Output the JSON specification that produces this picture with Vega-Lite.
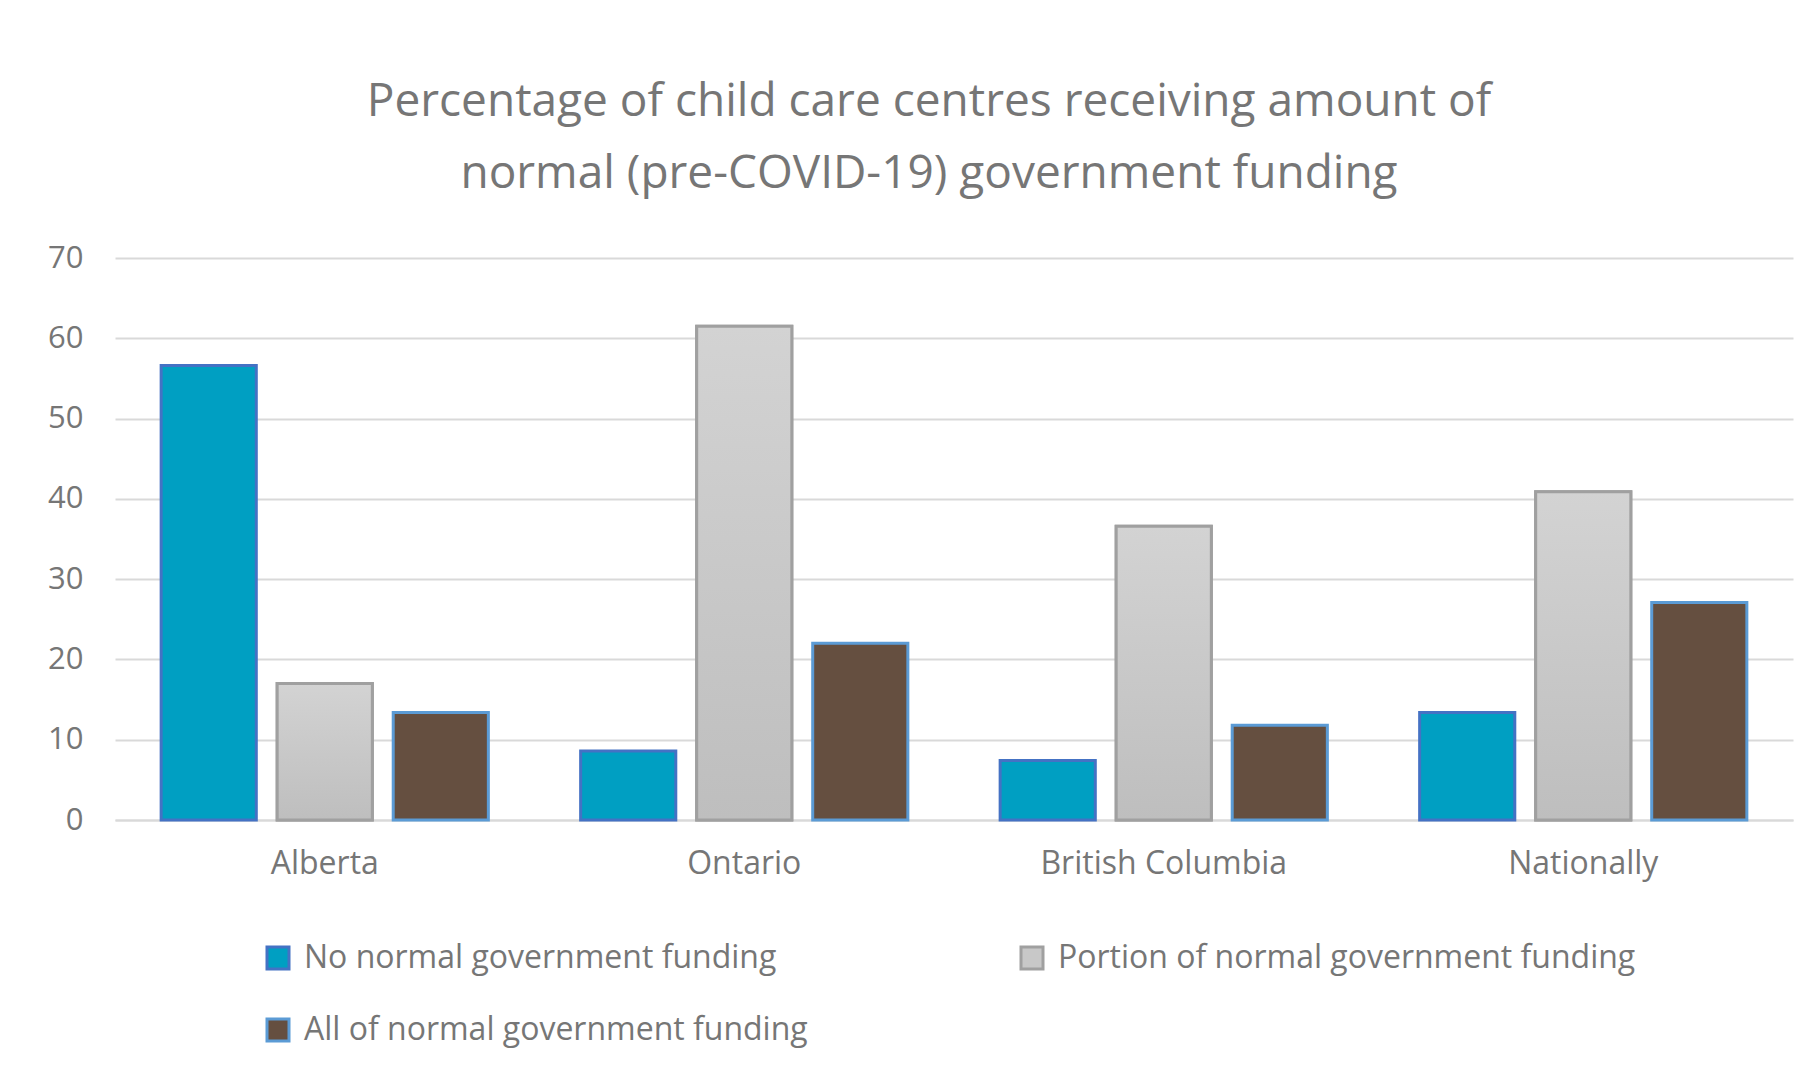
{
  "$schema": "https://vega.github.io/schema/vega-lite/v6.json",
  "width": 1678,
  "height": 562,
  "autosize": {"type": "none"},
  "padding": {"left": 115, "top": 258, "right": 23, "bottom": 250},
  "background": "white",
  "title": {
    "text": ["Percentage of child care centres receiving amount of", "normal (pre-COVID-19) government funding"],
    "font": "Open Sans",
    "fontSize": 46,
    "fontWeight": "normal",
    "color": "#767676",
    "lineHeight": 72,
    "anchor": "middle",
    "baseline": "bottom",
    "dx": -25,
    "offset": -2
  },
  "data": {
    "values": [
      {"region": "Alberta", "series": "No normal government funding", "value": 56.6},
      {"region": "Alberta", "series": "Portion of normal government funding", "value": 17.0},
      {"region": "Alberta", "series": "All of normal government funding", "value": 13.4},
      {"region": "Ontario", "series": "No normal government funding", "value": 8.6},
      {"region": "Ontario", "series": "Portion of normal government funding", "value": 61.5},
      {"region": "Ontario", "series": "All of normal government funding", "value": 22.0},
      {"region": "British Columbia", "series": "No normal government funding", "value": 7.4},
      {"region": "British Columbia", "series": "Portion of normal government funding", "value": 36.6},
      {"region": "British Columbia", "series": "All of normal government funding", "value": 11.8},
      {"region": "Nationally", "series": "No normal government funding", "value": 13.4},
      {"region": "Nationally", "series": "Portion of normal government funding", "value": 40.9},
      {"region": "Nationally", "series": "All of normal government funding", "value": 27.1}
    ]
  },
  "encoding": {
    "x": {
      "field": "region",
      "type": "nominal",
      "sort": ["Alberta", "Ontario", "British Columbia", "Nationally"],
      "scale": {"paddingInner": 0.22, "paddingOuter": 0.11},
      "axis": {
        "title": null,
        "labelAngle": 0,
        "labelFont": "Open Sans",
        "labelFontSize": 32,
        "labelColor": "#767676",
        "labelPadding": 28,
        "labelLimit": 0,
        "ticks": false,
        "domainColor": "#d9d9d9",
        "domainWidth": 2
      }
    },
    "xOffset": {
      "field": "series",
      "type": "nominal",
      "sort": ["No normal government funding", "Portion of normal government funding", "All of normal government funding"],
      "scale": {"paddingInner": 0.18, "paddingOuter": 0}
    },
    "y": {
      "field": "value",
      "type": "quantitative",
      "scale": {"domain": [0, 70], "nice": false},
      "axis": {
        "title": null,
        "values": [0, 10, 20, 30, 40, 50, 60, 70],
        "labelFont": "Open Sans",
        "labelFontSize": 31,
        "labelColor": "#767676",
        "labelPadding": 32,
        "ticks": false,
        "domain": false,
        "gridColor": "#d9d9d9",
        "gridWidth": 2
      }
    }
  },
  "layer": [
    {
      "mark": {"type": "bar", "strokeWidth": 3},
      "encoding": {
        "fill": {
          "field": "series",
          "type": "nominal",
          "sort": ["No normal government funding", "Portion of normal government funding", "All of normal government funding"],
          "scale": {
            "domain": ["No normal government funding", "Portion of normal government funding", "All of normal government funding"],
            "range": ["#009FC2", "#C8C8C8", "#654F40"]
          }
        },
        "stroke": {
          "field": "series",
          "type": "nominal",
          "sort": ["No normal government funding", "Portion of normal government funding", "All of normal government funding"],
          "scale": {
            "domain": ["No normal government funding", "Portion of normal government funding", "All of normal government funding"],
            "range": ["#4472C4", "#A0A0A0", "#5B9BD5"]
          }
        }
      }
    },
    {
      "transform": [{"filter": "datum.series === 'Portion of normal government funding'"}],
      "mark": {
        "type": "bar",
        "strokeWidth": 3,
        "stroke": "#A0A0A0",
        "fill": {
          "gradient": "linear",
          "x1": 0, "y1": 0, "x2": 0, "y2": 1,
          "stops": [
            {"offset": 0, "color": "#D3D3D3"},
            {"offset": 1, "color": "#BEBEBE"}
          ]
        }
      },
      "encoding": {}
    }
  ],
  "config": {
    "view": {"stroke": null},
    "legend": {
      "title": null,
      "orient": "none",
      "legendX": 147,
      "legendY": 684,
      "direction": "horizontal",
      "columns": 2,
      "columnPadding": 207,
      "rowPadding": 38,
      "labelFont": "Open Sans",
      "labelFontSize": 32,
      "labelColor": "#767676",
      "labelLimit": 1000,
      "labelOffset": 10,
      "symbolType": "square",
      "symbolSize": 484,
      "symbolStrokeWidth": 3
    }
  }
}
